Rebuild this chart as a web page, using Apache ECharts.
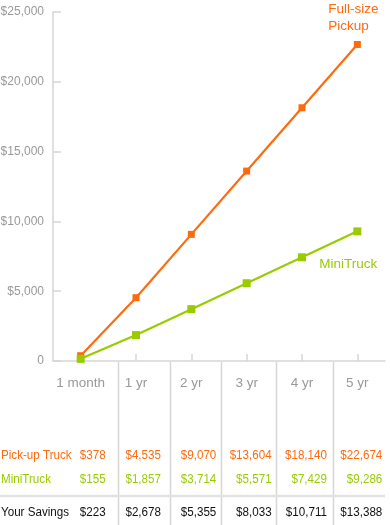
<!DOCTYPE html>
<html><head><meta charset="utf-8">
<script src="https://cdn.jsdelivr.net/npm/echarts@6/dist/echarts.min.js"></script>
<style>html,body{margin:0;padding:0;background:#fff}#c{width:390px;height:525px}</style>
</head><body><div id="c"></div>
<script>
const categories = ['1 month','1 yr','2 yr','3 yr','4 yr','5 yr'];
const pickupCost = [378,4535,9070,13604,18140,22674];
const miniCost = [155,1857,3714,5571,7429,9286];
const savings = [223,2678,5355,8033,10711,13388];
const rowNames = ['Pick-up Truck','MiniTruck','Your Savings'];
const seriesNames = ['Full-size\nPickup','MiniTruck'];

const ORANGE = '#ff6a0d', GREEN = '#99cc00', GRAY = '#999999', LINE = '#d6d6d6';
const FONT = '"Liberation Sans", Arial, Helvetica, sans-serif';

const money = v => '$' + v.toLocaleString('en-US');

const chart = echarts.init(document.getElementById('c'), null, {renderer:'canvas'});

function withEndLabel(arr, text, color, pos, dist, dx) {
  return arr.map((v, i) => i === arr.length - 1 ? {
    value: v,
    label: {show:true, position:pos, distance:dist, formatter:text, align:'left',
      offset:[dx,0], color:color, fontSize:13.5, lineHeight:17, fontFamily:FONT}
  } : v);
}

chart.setOption({
  animation:false,
  grid:{left:53, right:5, top:12, bottom:164, outerBoundsMode:'none', containLabel:false},
  xAxis:{type:'category', data:categories, boundaryGap:true,
    axisLine:{lineStyle:{color:LINE, width:1.5}},
    axisTick:{show:true, inside:true, length:7, alignWithLabel:true, interval:0, lineStyle:{color:LINE, width:1.5}},
    axisLabel:{color:GRAY, fontSize:13.5, margin:15, interval:0, fontFamily:FONT},
    splitLine:{show:false}},
  yAxis:{type:'value', min:0, max:25000, interval:5000,
    axisLine:{show:true, lineStyle:{color:LINE, width:1.5}},
    axisTick:{show:true, inside:true, length:8, lineStyle:{color:LINE, width:1.5}},
    axisLabel:{color:GRAY, fontSize:12, margin:9, fontFamily:FONT,
      formatter:v => v === 0 ? '0' : money(v)},
    splitLine:{show:false}},
  series:[
    {type:'line', name:'pickup', data:withEndLabel(pickupCost, seriesNames[0], ORANGE, 'top', 6, -29),
      symbol:'rect', symbolSize:7, showSymbol:true,
      lineStyle:{color:ORANGE, width:2.2}, itemStyle:{color:ORANGE}, z:3},
    {type:'line', name:'mini', data:withEndLabel(miniCost, seriesNames[1], GREEN, 'bottom', 20, -38),
      symbol:'rect', symbolSize:8, showSymbol:true,
      lineStyle:{color:GREEN, width:2.2}, itemStyle:{color:GREEN}, z:4}
  ]
});

// table below the chart, columns aligned to the category axis
const sepX = [118,170,221,276,333];
const rowY = [456,480,513];
const rowColors = [ORANGE, GREEN, '#111111'];
const rows = [pickupCost, miniCost, savings];
const els = [];
sepX.forEach(x => els.push({type:'line', shape:{x1:x+0.5, y1:362, x2:x+0.5, y2:525},
  style:{stroke:LINE, lineWidth:1.5}, silent:true}));
els.push({type:'line', shape:{x1:0, y1:496, x2:385, y2:496}, style:{stroke:'#e2e2e2', lineWidth:2.5}, silent:true});
rows.forEach((r, ri) => {
  els.push({type:'text', x:1, y:rowY[ri], scaleX:0.93, style:{text:rowNames[ri], fill:rowColors[ri],
    font:'12.5px ' + FONT, textAlign:'left', textVerticalAlign:'middle'}});
  r.forEach((v, ci) => {
    const cx = chart.convertToPixel({xAxisIndex:0}, categories[ci]);
    els.push({type:'text', x:cx + 25, y:rowY[ri], scaleX:0.93, style:{text:money(v), fill:rowColors[ri],
      font:'12.5px ' + FONT, textAlign:'right', textVerticalAlign:'middle'}});
  });
});
chart.setOption({graphic:{elements:els}});
</script></body></html>
